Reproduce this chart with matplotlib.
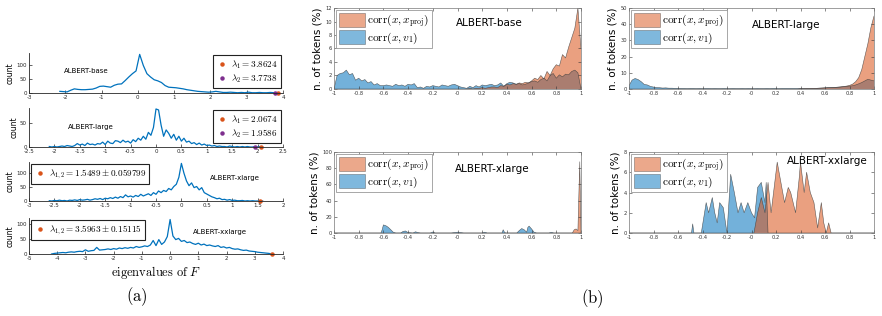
import numpy as np
import matplotlib
matplotlib.use('Agg')
import matplotlib.pyplot as plt
from matplotlib.lines import Line2D
from matplotlib.patches import Patch

plt.rcParams['mathtext.fontset'] = 'cm'
plt.rcParams['axes.unicode_minus'] = False
plt.rcParams['font.family'] = ['DejaVu Sans']

BLUE = '#0072BD'
ORANGE = '#D95319'
PURPLE = '#7E2F8E'

## (a) eigenvalue histograms (counts per bin)
base_range = (-2.15, 3.85)
base_counts = [6, 5, 4, 10, 15, 13, 12, 12, 13, 14, 18, 24, 25, 23, 21, 28, 32, 33, 45, 58,
               70, 80, 140, 100, 70, 58, 48, 44, 38, 27, 21, 20, 19, 17, 15, 12, 10, 8, 6, 5,
               4, 3, 4, 6, 4, 2, 2, 3, 2, 1, 2, 1, 3, 1, 1, 2, 1, 1, 2, 1, 1]
base_lams = [3.8624, 3.7738]

large_range = (-2.1, 2.1)
large_counts = [1, 0, 1, 0, 1, 2, 1, 3, 2, 1,
                3, 7, 4, 6, 3, 8, 5, 6, 4, 7,
                6, 10, 5, 12, 8, 7, 13, 12, 9, 14,
                10, 12, 8, 15, 11, 18, 14, 22, 16, 30,
                24, 40, 78, 76, 45, 22, 35, 28, 18, 26,
                14, 22, 12, 18, 10, 12, 7, 9, 5, 8,
                4, 6, 3, 4, 2, 3, 1, 2, 1, 1,
                0, 2, 1, 0, 1, 0, 1, 0, 1, 0,
                0, 1, 0, 1, 0]
large_lams = [2.0674, 1.9586]

xlarge_range = (-2.6, 1.6)
xlarge_counts = [1, 0, 2, 1, 3, 1, 2, 0, 3, 2,
                 4, 2, 5, 3, 4, 6, 3, 5, 8, 6,
                 9, 5, 10, 8, 12, 9, 14, 10, 16, 12,
                 22, 15, 18, 14, 20, 16, 24, 18, 22, 26,
                 20, 30, 24, 36, 30, 38, 34, 45, 40, 52,
                 60, 85, 135, 100, 72, 55, 65, 48, 52, 40,
                 48, 30, 25, 20, 15, 12, 8, 10, 5, 6,
                 3, 5, 2, 3, 1, 1, 2, 0, 1, 0,
                 1, 0, 0, 1, 0]
xlarge_lam = 1.5489

xxlarge_range = (-4.2, 3.6)
xxlarge_counts = [0, 2, 3, 4, 5, 4, 6, 7, 6, 8,
                  9, 8, 14, 9, 11, 12, 22, 13, 14, 15,
                  17, 15, 18, 16, 20, 18, 21, 19, 22, 20,
                  25, 22, 24, 27, 25, 30, 45, 28, 48, 32,
                  40, 58, 115, 60, 48, 52, 42, 45, 38, 40,
                  35, 32, 36, 30, 33, 28, 30, 27, 25, 28,
                  22, 24, 20, 22, 18, 16, 17, 14, 12, 13,
                  10, 9, 8, 6, 5, 4, 3, 2, 0]
xxlarge_lam = 3.5963

## (b) correlation histograms (% of tokens)
corr_bins = np.linspace(-1, 1, 81)
base_v1 = [0.0, 2.0, 2.3, 2.4, 2.8, 2.1, 2.3, 1.3, 1.6, 1.2,
           1.4, 0.9, 1.1, 0.6, 0.8, 0.5, 0.5, 0.6, 0.5, 0.4,
           0.7, 0.5, 0.6, 0.4, 0.7, 0.6, 0.8, 0.2, 0.3, 0.1,
           0.4, 0.3, 0.5, 0.4, 0.3, 0.6, 0.5, 0.4, 0.6, 0.7,
           0.5, 0.3, 0.2, 0.1, 0.4, 0.2, 0.5, 0.3, 0.6, 0.5,
           0.6, 0.7, 0.5, 0.6, 0.9, 0.4, 0.8, 1.0, 0.9, 0.7,
           0.8, 0.6, 0.7, 0.9, 1.1, 1.2, 1.0, 1.4, 1.6, 1.2,
           2.0, 2.3, 1.6, 2.1, 1.8, 2.2, 2.1, 2.6, 2.8, 2.4, 0.0]
base_proj = [0.0] * 44 + [0.1, 0.0, 0.1, 0.1, 0.2, 0.1, 0.2, 0.3, 0.3, 0.2,
                          0.5, 0.4, 0.7, 0.6, 0.8, 0.7, 0.9, 0.8, 1.0, 0.9,
                          1.2, 1.6, 1.4, 2.0, 1.5, 2.6, 2.0, 3.0, 3.6, 3.4,
                          5.1, 4.6, 6.2, 7.6, 9.0, 12.0, 6.0]

large_v1 = [2.0, 5.5, 6.5, 5.8, 4.5, 2.8, 2.5, 1.6, 1.2, 0.9,
            0.8, 0.6, 0.7, 0.5, 0.5, 0.4, 0.4, 0.3, 0.3, 0.2,
            0.3, 0.3, 0.2, 0.3, 0.2, 0.3, 0.3, 0.2, 0.3, 0.2,
            0.2, 0.3, 0.2, 0.2, 0.3, 0.2, 0.2, 0.3, 0.2, 0.3,
            0.2, 0.2, 0.3, 0.2, 0.2, 0.3, 0.2, 0.3, 0.3, 0.2,
            0.3, 0.3, 0.3, 0.3, 0.3, 0.3, 0.3, 0.3, 0.3, 0.3,
            0.3, 0.4, 0.5, 0.6, 0.7, 0.8, 0.9, 1.0, 1.1, 1.2,
            1.4, 1.6, 1.8, 2.0, 2.5, 3.2, 4.0, 5.0, 6.0, 5.5, 5.0]
large_proj = [0.0] * 56 + [0.2, 0.2, 0.3, 0.3, 0.4, 0.4, 0.5, 0.6, 0.7, 0.8,
                           0.9, 1.0, 1.1, 1.3, 1.5, 1.8, 2.2, 3.0, 4.5, 7.0,
                           12.0, 20.0, 28.0, 38.0, 45.0]

xlarge_v1_x = [-1, -0.62, -0.61, -0.6, -0.58, -0.56, -0.54, -0.52, -0.5, -0.46,
               -0.44, -0.42, -0.4, -0.36, -0.34, -0.32, -0.3, -0.22, -0.2, -0.18,
               -0.05, 0.0, 0.05, 0.2, 0.22, 0.24, 0.36, 0.37, 0.38, 0.39,
               0.48, 0.5, 0.52, 0.54, 0.56, 0.57, 0.58, 0.6, 0.62, 0.64,
               0.74, 0.76, 0.78, 1.0]
xlarge_v1 = [0, 0, 4, 10, 9, 7, 4, 1, 0, 0,
             2, 2.5, 0.5, 0, 1.5, 0.5, 0, 0, 1.2, 0,
             0, 1, 0, 0, 1, 0, 0, 4, 1, 0,
             0, 3, 5.5, 4, 1, 7, 8.5, 5, 1, 0,
             0, 0.8, 0, 0]
xlarge_proj_x = [-1, 0.93, 0.945, 0.96, 0.975, 0.99, 1.0]
xlarge_proj = [0, 0, 4, 5, 3, 88, 0]

xxl_v1_x = [-1, -0.49, -0.48, -0.47, -0.41, -0.37, -0.35, -0.32, -0.30, -0.28,
            -0.26, -0.23, -0.20, -0.17, -0.14, -0.11, -0.085, -0.06, -0.03, 0.0,
            0.025, 0.05, 0.08, 0.11, 0.12, 0.135, 1.0]
xxl_v1 = [0, 0, 0.9, 0, 0, 3, 2, 3.5, 2, 1,
          3, 2.5, 0, 5.8, 4, 2, 3, 2, 3, 2,
          1.5, 4.5, 5, 3, 5, 0, 0]
xxl_proj_x = [-1, 0.02, 0.05, 0.08, 0.11, 0.135, 0.16, 0.19, 0.21, 0.24,
              0.27, 0.30, 0.32, 0.36, 0.39, 0.40, 0.43, 0.45, 0.48, 0.51,
              0.54, 0.57, 0.59, 0.61, 0.63, 0.65, 1.0]
xxl_proj = [0, 0, 2, 3.5, 2, 5, 2, 5, 7, 5,
            3, 4.5, 4, 2, 5.5, 7, 4, 6, 4, 3,
            0.5, 3, 1, 0, 1, 0, 0]


def style_a(ax, ticks, yticks, ylim):
    ax.set_xlim(ticks[0], ticks[-1])
    ax.set_ylim(ylim)
    ax.set_xticks(ticks)
    ax.set_xticklabels(['%g' % t for t in ticks])
    ax.set_yticks(yticks)
    ax.spines['top'].set_visible(False)
    ax.spines['right'].set_visible(False)
    for s in ['left', 'bottom']:
        ax.spines[s].set_linewidth(0.6)
        ax.spines[s].set_color('#262626')
    ax.tick_params(direction='in', length=2, width=0.5, labelsize=4, pad=1.5, colors='#262626')
    ax.set_ylabel('count', fontsize=5.5, labelpad=1)


def hist_a(ax, rng, counts):
    x = np.linspace(rng[0], rng[1], len(counts))
    ax.plot(x, counts, color=BLUE, lw=0.9)


def lam_legend(ax, labels, colors, loc):
    handles = [Line2D([], [], ls='none', marker='o', ms=2.2, color=c) for c in colors]
    leg = ax.legend(handles, labels, loc=loc, fontsize=6.6, fancybox=False, framealpha=1,
                    handlelength=1.2, handletextpad=0.4, borderpad=0.35, labelspacing=0.2,
                    borderaxespad=0.2)
    leg.get_frame().set_edgecolor('#222222')
    leg.get_frame().set_linewidth(0.8)


def style_b(ax, ymax, ystep, title, tx, ty):
    ticks = np.round(np.arange(-1, 1.01, 0.2), 1)
    ax.set_xlim(-1, 1)
    ax.set_ylim(0, ymax)
    ax.set_xticks(ticks)
    ax.set_xticklabels(['%g' % t for t in ticks])
    ax.set_yticks(np.arange(0, ymax + 0.1, ystep))
    for s in ax.spines.values():
        s.set_linewidth(0.5)
        s.set_color('#777777')
    ax.tick_params(direction='in', length=2, width=0.4, labelsize=3.7, pad=1.5,
                   top=True, right=True, colors='#333333')
    ax.set_ylabel('n. of tokens (%)', fontsize=7.5, labelpad=2)
    ax.text(tx, ty, title, transform=ax.transAxes, fontsize=7.5, ha='center', va='center')
    handles = [Patch(facecolor=ORANGE, alpha=0.5, edgecolor='#333333', lw=0.5),
               Patch(facecolor=BLUE, alpha=0.5, edgecolor='#333333', lw=0.5)]
    leg = ax.legend(handles, [r'$\mathrm{corr}(x, x_{\mathrm{proj}})$', r'$\mathrm{corr}(x, v_1)$'],
                    loc='upper left', fontsize=8.2, fancybox=False, framealpha=1,
                    handlelength=2.3, handleheight=1.5, handletextpad=0.2, borderpad=0.2,
                    labelspacing=0.05, borderaxespad=0.2)
    leg.get_frame().set_edgecolor('#999999')
    leg.get_frame().set_linewidth(0.6)


def area(ax, x, y, color):
    ax.fill_between(x, 0, y, facecolor=color, alpha=0.55, edgecolor='none')
    ax.plot(x, y, color='#3a3a3a', lw=0.4, alpha=0.8)


def main():
    fig = plt.figure(figsize=(8.82, 3.16), dpi=100)
    W, H = 882.0, 316.0

    def axpx(l, r, t, b):
        return fig.add_axes([l / W, 1 - b / H, (r - l) / W, (b - t) / H])

    # (a)
    a1 = axpx(29, 283, 53, 93)
    hist_a(a1, base_range, base_counts)
    style_a(a1, list(range(-3, 5)), [0, 50, 100], (0, 145))
    a1.plot([base_lams[0]], [0], 'o', color=ORANGE, ms=2.2, clip_on=False)
    a1.plot([base_lams[1]], [0], 'o', color=PURPLE, ms=2.2, clip_on=False)
    lam_legend(a1, [r'$\lambda_1 = 3.8624$', r'$\lambda_2 = 3.7738$'], [ORANGE, PURPLE], 'upper right')
    a1.text(0.225, 0.55, 'ALBERT-base', transform=a1.transAxes, fontsize=5, ha='center', va='center')

    a2 = axpx(29, 283, 108, 147)
    hist_a(a2, large_range, large_counts)
    style_a(a2, [-2.5, -2, -1.5, -1, -0.5, 0, 0.5, 1, 1.5, 2, 2.5], [0, 50], (0, 80))
    a2.plot([large_lams[0]], [0], 'o', color=ORANGE, ms=2.2, clip_on=False)
    a2.plot([large_lams[1]], [0], 'o', color=PURPLE, ms=2.2, clip_on=False)
    lam_legend(a2, [r'$\lambda_1 = 2.0674$', r'$\lambda_2 = 1.9586$'], [ORANGE, PURPLE], 'upper right')
    a2.text(0.245, 0.52, 'ALBERT-large', transform=a2.transAxes, fontsize=5, ha='center', va='center')

    a3 = axpx(29, 283, 162, 201)
    hist_a(a3, xlarge_range, xlarge_counts)
    style_a(a3, [-3, -2.5, -2, -1.5, -1, -0.5, 0, 0.5, 1, 1.5, 2], [0, 50, 100], (0, 140))
    a3.plot([xlarge_lam], [0], 'o', color=ORANGE, ms=2.2, clip_on=False)
    lam_legend(a3, [r'$\lambda_{1,2} = 1.5489 \pm 0.059799$'], [ORANGE], 'upper left')
    a3.text(0.81, 0.6, 'ALBERT-xlarge', transform=a3.transAxes, fontsize=5, ha='center', va='center')

    a4 = axpx(29, 283, 218, 254)
    hist_a(a4, xxlarge_range, xxlarge_counts)
    style_a(a4, list(range(-5, 5)), [0, 50, 100], (0, 120))
    a4.plot([xxlarge_lam], [0], 'o', color=ORANGE, ms=2.2, clip_on=False)
    lam_legend(a4, [r'$\lambda_{1,2} = 3.5963 \pm 0.15115$'], [ORANGE], 'upper left')
    a4.text(0.75, 0.62, 'ALBERT-xxlarge', transform=a4.transAxes, fontsize=5, ha='center', va='center')
    a4.set_xlabel(r'$\mathrm{eigenvalues\ of}\ F$', fontsize=9, labelpad=2)

    fig.text(137 / W, 1 - 297 / H, r'$\mathrm{(a)}$', fontsize=12, ha='center', va='center')
    fig.text(592 / W, 1 - 299 / H, r'$\mathrm{(b)}$', fontsize=12, ha='center', va='center')

    # (b)  blue drawn first, orange laid over it
    b1 = axpx(334, 581, 8, 89)
    area(b1, corr_bins, base_v1, BLUE)
    area(b1, corr_bins, base_proj, ORANGE)
    style_b(b1, 12, 2, 'ALBERT-base', 0.63, 0.81)

    b2 = axpx(629, 874, 8, 89)
    area(b2, corr_bins, large_v1, BLUE)
    area(b2, corr_bins, large_proj, ORANGE)
    style_b(b2, 50, 10, 'ALBERT-large', 0.64, 0.79)

    b3 = axpx(334, 581, 152, 233)
    area(b3, xlarge_v1_x, xlarge_v1, BLUE)
    area(b3, xlarge_proj_x, xlarge_proj, ORANGE)
    style_b(b3, 100, 20, 'ALBERT-xlarge', 0.64, 0.79)

    b4 = axpx(629, 874, 152, 233)
    area(b4, xxl_v1_x, xxl_v1, BLUE)
    area(b4, xxl_proj_x, xxl_proj, ORANGE)
    style_b(b4, 8, 2, 'ALBERT-xxlarge', 0.81, 0.89)

    fig.savefig('out.png', dpi=100)


if __name__ == "__main__":
    main()
